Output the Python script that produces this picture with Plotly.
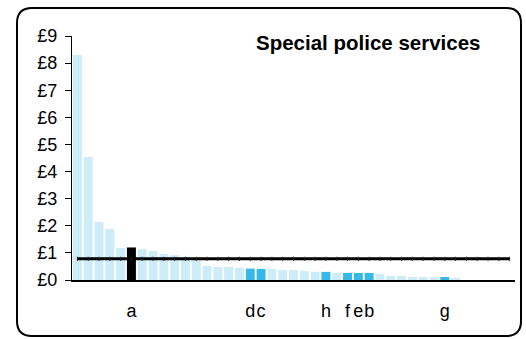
import plotly.graph_objects as go

# Data
values = [8.30, 4.54, 2.14, 1.88, 1.18, 1.20, 1.14, 1.07, 0.96, 0.92,
          0.85, 0.72, 0.52, 0.48, 0.48, 0.45, 0.42, 0.41, 0.41, 0.37,
          0.37, 0.33, 0.30, 0.30, 0.26, 0.26, 0.26, 0.26, 0.22, 0.15,
          0.15, 0.11, 0.11, 0.11, 0.11, 0.04, 0.0, 0.0, 0.0, 0.0, 0.0]
highlight = {6: "a", 17: "d", 18: "c", 24: "h", 26: "f", 27: "e", 28: "b", 35: "g"}
black_bar = 6
average = 0.78
y_ticks = [0, 1, 2, 3, 4, 5, 6, 7, 8, 9]
y_labels = ["£" + str(v) for v in y_ticks]
title = "Special police services"

LIGHT = "#CCECF8"
BLUE = "#35B9E9"

xs = list(range(1, len(values) + 1))
colors = []
for x in xs:
    if x == black_bar:
        colors.append("black")
    elif x in highlight:
        colors.append(BLUE)
    else:
        colors.append(LIGHT)

fig = go.Figure()
fig.add_trace(go.Bar(x=xs, y=values, marker=dict(color=colors, line=dict(width=0)),
                     showlegend=False))
fig.add_trace(go.Scatter(x=xs, y=[average] * len(xs), mode="lines+markers",
                         line=dict(color="black", width=3),
                         marker=dict(symbol="line-ns", size=3,
                                     line=dict(color="#222222", width=1)),
                         showlegend=False))

W, H = 526, 339
L, R, T, B = 72, 11, 36, 59
pw, ph = W - L - R, H - T - B


def px(p):
    return (p - L) / pw


def py(p):
    return (H - B - p) / ph


# rounded border
x0, x1, y0, y1, r = 17, 521, 8, 336, 15
path = (f"M {px(x0 + r)},{py(y0)} L {px(x1 - r)},{py(y0)} "
        f"Q {px(x1)},{py(y0)} {px(x1)},{py(y0 + r)} "
        f"L {px(x1)},{py(y1 - r)} Q {px(x1)},{py(y1)} {px(x1 - r)},{py(y1)} "
        f"L {px(x0 + r)},{py(y1)} Q {px(x0)},{py(y1)} {px(x0)},{py(y1 - r)} "
        f"L {px(x0)},{py(y0 + r)} Q {px(x0)},{py(y0)} {px(x0 + r)},{py(y0)} Z")

fig.update_layout(
    width=W, height=H,
    margin=dict(l=L, r=R, t=T, b=B),
    paper_bgcolor="white", plot_bgcolor="white",
    bargap=0.17,
    font=dict(family="Liberation Sans, Arial, sans-serif", color="black", size=18),
    shapes=[dict(type="path", path=path, xref="paper", yref="paper",
                 line=dict(color="black", width=2), layer="above")],
    annotations=[dict(text="<b>" + title + "</b>", xref="paper", yref="paper",
                      x=px(368), y=py(43), xanchor="center", yanchor="middle",
                      showarrow=False, font=dict(size=20.5))],
)
fig.update_xaxes(range=[0.5, len(values) + 0.5], tickmode="array",
                 tickvals=list(highlight.keys()), ticktext=list(highlight.values()),
                 tickangle=0, ticks="", showgrid=False, zeroline=False,
                 showline=True, linecolor="black", linewidth=1.5,
                 ticklabelstandoff=14, tickfont=dict(size=18))
fig.update_yaxes(range=[0, 9], tickmode="array", tickvals=y_ticks, ticktext=y_labels,
                 ticks="outside", ticklen=6, tickcolor="black", tickwidth=1,
                 showgrid=False, zeroline=False, showline=True,
                 linecolor="black", linewidth=1, ticklabelstandoff=4,
                 tickfont=dict(size=18))

fig.write_html("out.html", config={"displayModeBar": False},
               post_script="document.body.style.margin='0';document.body.style.overflow='hidden';")
